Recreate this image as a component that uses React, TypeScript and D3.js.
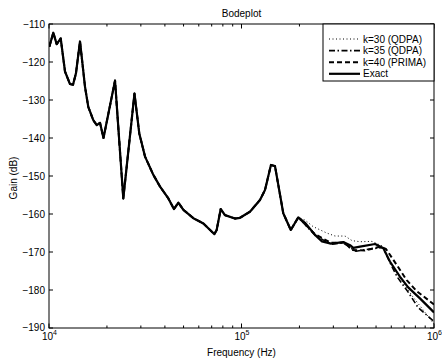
import React from "react";
import * as d3 from "d3";

// Exact response: frequency (Hz) and gain (dB)
const exactFreq = [
  10037, 10527, 10965, 11502, 12110, 12853, 13326, 13804, 14488, 15382,
  15996, 16982, 17701, 18408, 19187, 22029, 24322, 27797, 29444, 31550,
  34834, 37757, 41687, 44566, 46989, 49888, 56234, 63387, 72277, 74302,
  77983, 82035, 92470, 98175, 110662, 124738, 132434, 142233, 149279, 164816,
  180302, 197242, 213796, 240991, 261818, 291743, 338065, 366438, 381066, 413048,
  494311, 545758, 590201, 665273, 734514, 845279, 1000000,
];
const exactGain = [
  -116, -112.3, -115.3, -113.8, -122.5, -125.8, -126, -123, -114.6, -126.5,
  -131.8, -135.3, -136.6, -136, -140, -124.9, -155.9, -128.3, -138.8, -144.9,
  -149.7, -152.8, -155.9, -158.7, -157, -158.9, -161.1, -162.5, -165.3, -164.2,
  -158.7, -160.3, -161.2, -161, -159.4, -156.3, -153.7, -147.1, -147.4, -159.8,
  -164.2, -160.9, -162.3, -165.5, -167.2, -167.8, -167.4, -168.2, -168.9, -168.6,
  -167.9, -169, -172.5, -176.5, -179.3, -182.2, -185.9,
];

// shared head (index where approximations start to differ)
const splitIndex = 42;

// k=30 (QDPA) tail
const k30Freq = [213796, 235200, 277100, 306000, 345000, 375000, 412700, 476400, 537000, 605100, 690200, 768500, 877000, 1000000];
const k30Gain = [-161.6, -163.3, -165, -165.8, -165.8, -167, -167.3, -167.2, -168.4, -173.5, -177.8, -181.5, -185.2, -189];

// k=35 (QDPA) tail
const k35Freq = [240900, 291700, 336800, 366100, 393400, 465100, 543300, 590800, 642500, 732700, 826100, 1000000];
const k35Gain = [-165.6, -168, -167.6, -168.8, -169.8, -169.2, -168.8, -172.8, -176.5, -180.5, -184.6, -188.3];

// k=40 (PRIMA) tail
const k40Freq = [240900, 291700, 345000, 375000, 438100, 524200, 563200, 640200, 721300, 813300, 1000000];
const k40Gain = [-165.3, -167.6, -167.5, -169.5, -169.6, -168.6, -169.2, -173.4, -177.4, -180.3, -183.8];

const yTicks = [-110, -120, -130, -140, -150, -160, -170, -180, -190];
const xMajor = [1e4, 1e5, 1e6];
const xExp = ["4", "5", "6"];
const legendLabels = ["k=30 (QDPA)", "k=35 (QDPA)", "k=40 (PRIMA)", "Exact"];

const W = 442, H = 362;
const L = 49, R = 434, T = 24, B = 328;
const FONT = "'Liberation Sans', Arial, Helvetica, sans-serif";

type Style = { dash: string; width: number };
const styles: Style[] = [
  { dash: "1 2.5", width: 1 },
  { dash: "6 2.5 1.5 2.5", width: 1.6 },
  { dash: "5 3", width: 2 },
  { dash: "", width: 2.2 },
];

export default function App() {
  const x = d3.scaleLog().domain([1e4, 1e6]).range([L, R]);
  const y = d3.scaleLinear().domain([-190, -110]).range([B, T]);
  const line = d3
    .line<[number, number]>()
    .x((d) => x(d[0]))
    .y((d) => y(d[1]));

  const head: [number, number][] = exactFreq.slice(0, splitIndex).map((f, i) => [f, exactGain[i]]);
  const mk = (fs: number[], gs: number[]): [number, number][] => [
    ...head,
    ...fs.map((f, i) => [f, gs[i]] as [number, number]),
  ];
  const series = [
    mk(k30Freq, k30Gain),
    mk(k35Freq, k35Gain),
    mk(k40Freq, k40Gain),
    exactFreq.map((f, i) => [f, exactGain[i]] as [number, number]),
  ];

  const minor: number[] = [];
  for (const dec of [1e4, 1e5]) for (let m = 2; m <= 9; m++) minor.push(dec * m);

  const legX = 323, legY = T, legW = R - 323, legH = 57;

  return (
    <svg width={W} height={H} style={{ position: "absolute", left: 0, top: 0, background: "#fff" }} fontFamily={FONT}>
      <rect x={0} y={0} width={W} height={H} fill="#fff" />
      <defs>
        <clipPath id="plot">
          <rect x={L} y={T} width={R - L} height={B - T} />
        </clipPath>
      </defs>
      {/* curves */}
      <g clipPath="url(#plot)" fill="none" stroke="#000" strokeLinejoin="round">
        {series.map((s, i) => (
          <path key={i} d={line(s) || ""} strokeWidth={styles[i].width} strokeDasharray={styles[i].dash || undefined} />
        ))}
      </g>
      {/* axes box */}
      <rect x={L} y={T} width={R - L} height={B - T} fill="none" stroke="#000" strokeWidth={1} />
      {/* y ticks */}
      {yTicks.map((t) => (
        <g key={t}>
          <line x1={L} x2={L + 4} y1={y(t)} y2={y(t)} stroke="#000" />
          <line x1={R} x2={R - 4} y1={y(t)} y2={y(t)} stroke="#000" />
          <text x={L - 4} y={y(t) + 3.5 - (t === -190 ? 1 : 0)} fontSize={10} textAnchor="end">
            {"\u2212" + Math.abs(t)}
          </text>
        </g>
      ))}
      {/* x ticks */}
      {minor.map((t) => (
        <g key={t}>
          <line x1={x(t)} x2={x(t)} y1={B} y2={B - 2.5} stroke="#000" />
          <line x1={x(t)} x2={x(t)} y1={T} y2={T + 2.5} stroke="#000" />
        </g>
      ))}
      {xMajor.map((t, i) => (
        <g key={t}>
          <line x1={x(t)} x2={x(t)} y1={B} y2={B - 4.5} stroke="#000" />
          <line x1={x(t)} x2={x(t)} y1={T} y2={T + 4.5} stroke="#000" />
          <text x={x(t) - 1.5} y={339.5} fontSize={10} textAnchor="middle">10</text>
          <text x={x(t) + 4} y={334.5} fontSize={7}>{xExp[i]}</text>
        </g>
      ))}
      {/* labels */}
      <text x={(L + R) / 2} y={17} fontSize={10} textAnchor="middle">Bodeplot</text>
      <text x={(L + R) / 2} y={356} fontSize={10} textAnchor="middle">Frequency (Hz)</text>
      <text transform={`translate(16.5, ${(T + B) / 2 + 2}) rotate(-90)`} fontSize={10} textAnchor="middle">Gain (dB)</text>
      {/* legend */}
      <rect x={legX} y={legY} width={legW} height={legH} fill="#fff" stroke="#000" strokeWidth={1} />
      {legendLabels.map((lab, i) => {
        const cy = 39 + i * 11.6;
        return (
          <g key={lab}>
            <line x1={329} x2={360} y1={cy} y2={cy} stroke="#000" strokeWidth={styles[i].width} strokeDasharray={styles[i].dash || undefined} />
            <text x={363} y={cy + 3.5} fontSize={10}>{lab}</text>
          </g>
        );
      })}
    </svg>
  );
}
